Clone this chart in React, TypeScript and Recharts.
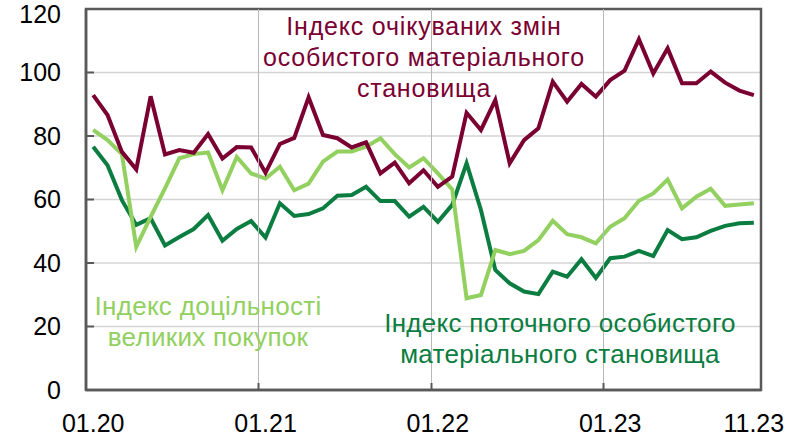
import React from 'react';
import { LineChart, Line, XAxis, YAxis, CartesianGrid, ReferenceArea } from 'recharts';

// monthly, 01.20 .. 11.23
const months: string[] = [];
for (let y = 20; y <= 23; y++) {
  for (let m = 1; m <= 12; m++) {
    if (y === 23 && m > 11) break;
    months.push(`${String(m).padStart(2, '0')}.${y}`);
  }
}

const expectedChange = [
  92.9, 86.6, 75, 69.5, 92.5, 74.2, 75.6, 74.7, 80.6, 72.9,
  76.5, 76.4, 68.4, 77.5, 79.4, 92.2, 80.3, 79.3, 76.4, 78,
  68.2, 71.6, 65.1, 69.2, 64, 67.2, 87.3, 81.9, 91.3, 71.4,
  78.7, 82.4, 97.1, 90.8, 96.4, 92.4, 97.6, 100.6, 110.5, 99.7,
  107.6, 96.6, 96.6, 100.3, 96.8, 94.3, 92.9,
];

const bigPurchases = [
  81.9, 78.7, 74.3, 45.1, 54.5, 63.5, 73, 74.3, 74.8, 62.9,
  73.4, 68.2, 66.6, 70.3, 62.9, 65, 71.9, 75.1, 75.1, 76.6,
  79.3, 74.3, 70.1, 73, 68.2, 63.2, 28.9, 29.9, 44.1, 42.8,
  43.8, 47.2, 53.3, 49.1, 48.1, 46.2, 51.4, 54.1, 59.6, 61.9,
  66.3, 57.2, 60.9, 63.4, 58, 58.4, 58.8,
];

const currentSituation = [
  76.6, 70.8, 59.8, 52, 54.1, 45.5, 48.2, 50.7, 55.1, 47,
  50.7, 53.2, 48, 58.8, 54.8, 55.4, 57.2, 61.2, 61.4, 64,
  59.5, 59.5, 54.6, 57.7, 53, 58.3, 71.4, 56.7, 37.8, 33.6,
  31, 30.2, 37.3, 35.7, 41.2, 35.3, 41.5, 42, 43.8, 42.2,
  50.4, 47.5, 48.1, 50.1, 51.7, 52.5, 52.7,
];

const labelTicks = [0, 12, 24, 36, 46];
const yearBoundaries = [11.5, 23.5, 35.5];
const yTicks = [0, 20, 40, 60, 80, 100, 120];

const MAROON = '#7b0032';
const LIGHT = '#92d060';
const DARK = '#0b7d40';
const AXIS = '#595959';
const GRID = '#d4d4d4';
const VGRID = '#b8b8b8';
const FONT = '"Liberation Sans", Arial, sans-serif';
const TICK_MARGIN = 24;
const MARGIN = { top: 9, right: 42, bottom: 0, left: 0 };
const X_AXIS_H = 48;
const PLOT_H = 438 - MARGIN.top - X_AXIS_H;

const data = months.map((m, i) => ({
  idx: i,
  month: m,
  expected: expectedChange[i],
  purchases: bigPurchases[i],
  current: currentSituation[i],
}));

const allXTicks = [...labelTicks, ...yearBoundaries].sort((a, b) => a - b);

// labels sit on the months; year boundaries get a grid line and a short tick mark
const XTick = (props: any) => {
  const { x, y, payload } = props;
  const v = payload.value;
  if (!Number.isInteger(v)) {
    const axisY = y - TICK_MARGIN;
    const gx = Math.round(x) + 0.5;
    return (
      <g>
        <path d={`M${gx},${axisY}V${axisY - PLOT_H}`} stroke={VGRID} strokeWidth={1} fill="none" />
        <path d={`M${gx},${axisY}V${axisY - 7}`} stroke={AXIS} strokeWidth={2} fill="none" />
      </g>
    );
  }
  return (
    <text x={x} y={y} dy="0.71em" textAnchor="middle" fill="#000" fontSize={25} fontFamily={FONT}>
      {months[v]}
    </text>
  );
};

const noteStyle: React.CSSProperties = {
  position: 'absolute',
  fontFamily: FONT,
  lineHeight: '31px',
  textAlign: 'center',
  whiteSpace: 'nowrap',
  transform: 'translateX(-50%)',
};

export default function App() {
  return (
    <div style={{ position: 'absolute', left: 0, top: 0, width: 803, height: 438, background: '#fff' }}>
      <LineChart width={803} height={438} data={data} margin={MARGIN}>
        <CartesianGrid stroke={GRID} strokeWidth={1.5} vertical={false} />
        <XAxis
          dataKey="idx"
          type="number"
          domain={[-0.5, 46.5]}
          ticks={allXTicks}
          interval={0}
          tickLine={false}
          tickSize={0}
          tickMargin={TICK_MARGIN}
          height={X_AXIS_H}
          axisLine={{ stroke: AXIS, strokeWidth: 2.5 }}
          tick={<XTick />}
        />
        <YAxis
          domain={[0, 120]}
          ticks={yTicks}
          width={86}
          tickSize={-8}
          tickMargin={33}
          axisLine={{ stroke: AXIS, strokeWidth: 2.5 }}
          tickLine={{ stroke: AXIS, strokeWidth: 2 }}
          tick={{ fill: '#000', fontSize: 25, fontFamily: FONT }}
        />
        <ReferenceArea
          x1={-0.5}
          x2={46.5}
          y1={0}
          y2={120}
          fill="none"
          stroke={AXIS}
          strokeWidth={2.5}
        />
        <Line dataKey="current" stroke={DARK} strokeWidth={4} dot={false} isAnimationActive={false} />
        <Line dataKey="purchases" stroke={LIGHT} strokeWidth={4} dot={false} isAnimationActive={false} />
        <Line dataKey="expected" stroke={MAROON} strokeWidth={4} dot={false} isAnimationActive={false} />
      </LineChart>
      <div style={{ ...noteStyle, left: 424, top: 11, fontSize: 25, letterSpacing: 0.8, color: MAROON }}>
        Індекс очікуваних змін<br />особистого матеріального<br />становища
      </div>
      <div style={{ ...noteStyle, left: 208, top: 291, fontSize: 26, letterSpacing: 0.3, color: LIGHT }}>
        Індекс доцільності<br />великих покупок
      </div>
      <div style={{ ...noteStyle, left: 560, top: 308, fontSize: 26, letterSpacing: 0.3, color: DARK }}>
        Індекс поточного особистого<br />матеріального становища
      </div>
    </div>
  );
}
